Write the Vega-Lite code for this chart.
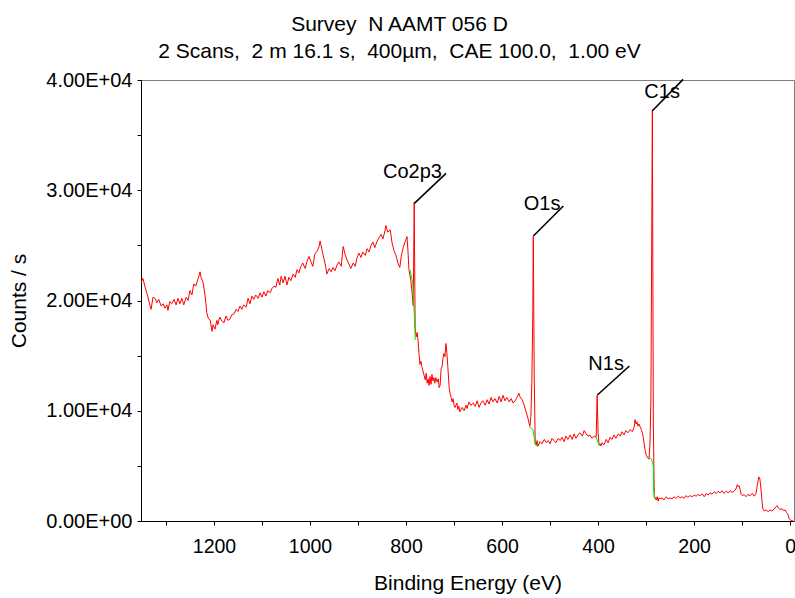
{
  "$schema": "https://vega.github.io/schema/vega-lite/v6.json",
  "width": 653,
  "height": 441,
  "autosize": {"type": "none"},
  "padding": {"left": 141, "top": 80, "right": 1, "bottom": 77},
  "background": "white",
  "config": {
    "font": "Liberation Sans",
    "view": {"stroke": "#808080", "strokeWidth": 1}
  },
  "title": {
    "text": ["Survey\u00a0 N AAMT 056 D", "2 Scans,\u00a0 2 m 16.1 s,\u00a0 400µm,\u00a0 CAE 100.0,\u00a0 1.00 eV"],
    "font": "Liberation Sans",
    "fontSize": 21,
    "fontWeight": "normal",
    "color": "black",
    "anchor": "middle",
    "dx": -68,
    "offset": 8,
    "lineHeight": 27
  },
  "datasets": {
    "spec": [
      {"eV":1352,"counts":21600},{"eV":1348,"counts":22000},{"eV":1344,"counts":21300},{"eV":1342,"counts":21000},{"eV":1338,"counts":20400},{"eV":1333,"counts":19500},{"eV":1331,"counts":19200},{"eV":1327,"counts":20300},{"eV":1323,"counts":20200},{"eV":1319,"counts":19800},{"eV":1315,"counts":20100},{"eV":1310,"counts":19500},{"eV":1306,"counts":19700},{"eV":1302,"counts":19300},{"eV":1298,"counts":19600},{"eV":1296,"counts":19100},{"eV":1292,"counts":19900},{"eV":1288,"counts":19700},{"eV":1283,"counts":20100},{"eV":1279,"counts":19600},{"eV":1275,"counts":20200},{"eV":1271,"counts":19700},{"eV":1267,"counts":20200},{"eV":1263,"counts":19600},{"eV":1258,"counts":20300},{"eV":1254,"counts":20000},{"eV":1250,"counts":20900},{"eV":1246,"counts":20500},{"eV":1242,"counts":21500},{"eV":1238,"counts":21300},{"eV":1233,"counts":22000},{"eV":1229,"counts":22600},{"eV":1227,"counts":22100},{"eV":1223,"counts":21700},{"eV":1219,"counts":20600},{"eV":1217,"counts":19800},{"eV":1215,"counts":18900},{"eV":1212,"counts":18400},{"eV":1208,"counts":18200},{"eV":1204,"counts":17200},{"eV":1202,"counts":17800},{"eV":1198,"counts":17400},{"eV":1194,"counts":18200},{"eV":1192,"counts":17800},{"eV":1188,"counts":18500},{"eV":1183,"counts":18100},{"eV":1179,"counts":18000},{"eV":1175,"counts":18600},{"eV":1171,"counts":18200},{"eV":1167,"counts":18300},{"eV":1163,"counts":18700},{"eV":1158,"counts":18800},{"eV":1154,"counts":19200},{"eV":1150,"counts":19000},{"eV":1146,"counts":19500},{"eV":1142,"counts":19200},{"eV":1138,"counts":19600},{"eV":1133,"counts":19400},{"eV":1129,"counts":20200},{"eV":1125,"counts":19700},{"eV":1121,"counts":20400},{"eV":1117,"counts":20100},{"eV":1113,"counts":20500},{"eV":1108,"counts":20200},{"eV":1104,"counts":20700},{"eV":1100,"counts":20300},{"eV":1096,"counts":20800},{"eV":1092,"counts":20400},{"eV":1088,"counts":20900},{"eV":1083,"counts":20700},{"eV":1079,"counts":21100},{"eV":1075,"counts":21300},{"eV":1071,"counts":21200},{"eV":1067,"counts":22000},{"eV":1063,"counts":21400},{"eV":1060,"counts":22200},{"eV":1056,"counts":21600},{"eV":1052,"counts":22200},
      {"eV":1048,"counts":21400},{"eV":1044,"counts":22100},{"eV":1040,"counts":21800},{"eV":1035,"counts":22400},{"eV":1031,"counts":22100},{"eV":1027,"counts":22800},{"eV":1023,"counts":22500},{"eV":1019,"counts":23100},{"eV":1015,"counts":23400},{"eV":1010,"counts":22900},{"eV":1006,"counts":23600},{"eV":1002,"counts":24000},{"eV":998,"counts":23500},{"eV":994,"counts":23100},{"eV":990,"counts":24200},{"eV":985,"counts":24500},{"eV":981,"counts":24900},{"eV":979,"counts":25400},{"eV":975,"counts":24600},{"eV":971,"counts":23800},{"eV":967,"counts":23000},{"eV":965,"counts":22400},{"eV":960,"counts":22900},{"eV":956,"counts":22600},{"eV":952,"counts":23000},{"eV":948,"counts":22700},{"eV":944,"counts":23200},{"eV":940,"counts":23500},{"eV":935,"counts":23100},{"eV":931,"counts":24900},{"eV":927,"counts":24200},{"eV":923,"counts":23700},{"eV":919,"counts":23300},{"eV":915,"counts":22900},{"eV":910,"counts":23400},{"eV":906,"counts":23100},{"eV":902,"counts":23900},{"eV":898,"counts":24300},{"eV":894,"counts":23900},{"eV":890,"counts":24400},{"eV":885,"counts":24100},{"eV":881,"counts":24700},{"eV":877,"counts":24400},{"eV":873,"counts":25000},{"eV":869,"counts":25300},{"eV":865,"counts":24800},{"eV":860,"counts":25400},{"eV":856,"counts":25700},{"eV":852,"counts":26000},{"eV":848,"counts":25600},{"eV":844,"counts":26300},{"eV":842,"counts":26800},{"eV":838,"counts":26200},{"eV":833,"counts":26400},{"eV":829,"counts":25200},{"eV":825,"counts":24500},{"eV":821,"counts":24100},{"eV":817,"counts":23400},{"eV":813,"counts":23000},{"eV":810,"counts":24000},{"eV":806,"counts":24800},{"eV":802,"counts":25300},{"eV":798,"counts":25800},{"eV":796,"counts":24500},{"eV":794,"counts":22800},{"eV":790,"counts":21800},{"eV":787,"counts":20500},{"eV":785,"counts":19500},{"eV":783,"counts":28900},{"eV":781,"counts":17500},{"eV":779,"counts":16700},
      {"eV":777,"counts":17100},{"eV":775,"counts":16400},{"eV":773,"counts":15200},{"eV":771,"counts":14200},{"eV":769,"counts":14500},{"eV":767,"counts":14000},{"eV":763,"counts":13300},{"eV":760,"counts":12800},{"eV":758,"counts":13400},{"eV":756,"counts":12500},{"eV":754,"counts":12900},{"eV":752,"counts":12300},{"eV":750,"counts":13100},{"eV":748,"counts":12400},{"eV":746,"counts":13300},{"eV":744,"counts":12700},{"eV":742,"counts":13000},{"eV":740,"counts":12500},{"eV":738,"counts":13000},{"eV":735,"counts":12600},{"eV":733,"counts":12900},{"eV":731,"counts":12100},{"eV":729,"counts":12300},{"eV":727,"counts":13800},{"eV":725,"counts":14000},{"eV":723,"counts":14800},{"eV":721,"counts":15200},{"eV":719,"counts":14900},{"eV":717,"counts":16100},{"eV":715,"counts":15300},{"eV":713,"counts":14000},{"eV":710,"counts":12000},{"eV":708,"counts":11500},{"eV":706,"counts":11200},{"eV":704,"counts":10800},{"eV":702,"counts":11100},{"eV":700,"counts":10500},{"eV":698,"counts":10300},{"eV":694,"counts":10700},{"eV":692,"counts":10100},{"eV":690,"counts":10400},{"eV":688,"counts":9900},{"eV":683,"counts":10300},{"eV":679,"counts":10000},{"eV":675,"counts":10500},{"eV":673,"counts":10200},{"eV":669,"counts":10800},{"eV":665,"counts":10500},{"eV":660,"counts":10700},{"eV":656,"counts":10400},{"eV":652,"counts":10900},{"eV":648,"counts":10300},{"eV":644,"counts":10700},{"eV":640,"counts":10900},{"eV":635,"counts":10500},{"eV":631,"counts":11000},{"eV":627,"counts":10600},{"eV":623,"counts":11200},{"eV":619,"counts":10800},{"eV":615,"counts":11100},{"eV":610,"counts":10700},{"eV":606,"counts":11300},{"eV":602,"counts":10800},{"eV":598,"counts":11400},{"eV":594,"counts":10900},{"eV":590,"counts":11200},{"eV":585,"counts":10800},{"eV":581,"counts":11100},{"eV":577,"counts":10700},{"eV":573,"counts":10900},{"eV":569,"counts":11200},{"eV":565,"counts":11600},{"eV":563,"counts":11300},{"eV":558,"counts":11000},{"eV":554,"counts":10500},{"eV":550,"counts":9900},{"eV":546,"counts":9300},{"eV":544,"counts":8900},{"eV":542,"counts":8600},{"eV":540,"counts":9500},{"eV":538,"counts":12500},{"eV":536,"counts":19000},{"eV":535,"counts":25800},{"eV":533,"counts":13000},{"eV":531,"counts":7200},{"eV":529,"counts":6900},{"eV":527,"counts":7300},{"eV":525,"counts":6800},
      {"eV":521,"counts":7200},{"eV":517,"counts":7000},{"eV":512,"counts":7400},{"eV":508,"counts":7100},{"eV":504,"counts":7300},{"eV":500,"counts":7000},{"eV":496,"counts":7500},{"eV":492,"counts":7300},{"eV":488,"counts":7100},{"eV":483,"counts":7500},{"eV":479,"counts":7300},{"eV":475,"counts":7600},{"eV":471,"counts":7200},{"eV":467,"counts":7700},{"eV":463,"counts":7400},{"eV":458,"counts":7800},{"eV":454,"counts":7400},{"eV":450,"counts":7900},{"eV":446,"counts":7500},{"eV":442,"counts":7800},{"eV":438,"counts":8000},{"eV":433,"counts":7700},{"eV":429,"counts":8200},{"eV":425,"counts":7900},{"eV":421,"counts":7700},{"eV":417,"counts":7800},{"eV":413,"counts":7500},{"eV":408,"counts":7700},{"eV":404,"counts":7600},{"eV":402,"counts":11400},{"eV":400,"counts":8000},{"eV":398,"counts":6900},{"eV":396,"counts":7000},{"eV":394,"counts":6800},{"eV":392,"counts":7100},{"eV":388,"counts":6900},{"eV":383,"counts":7400},{"eV":379,"counts":7100},{"eV":375,"counts":7600},{"eV":371,"counts":7400},{"eV":367,"counts":7800},{"eV":363,"counts":7500},{"eV":358,"counts":7900},{"eV":354,"counts":7700},{"eV":350,"counts":8100},{"eV":346,"counts":7800},{"eV":342,"counts":8200},{"eV":338,"counts":8000},{"eV":333,"counts":8300},{"eV":329,"counts":8100},{"eV":325,"counts":8500},{"eV":323,"counts":9200},{"eV":321,"counts":8800},{"eV":319,"counts":9000},{"eV":317,"counts":8600},{"eV":315,"counts":8800},{"eV":313,"counts":8600},{"eV":310,"counts":8300},{"eV":308,"counts":8000},{"eV":306,"counts":7600},{"eV":304,"counts":7000},{"eV":302,"counts":6400},{"eV":300,"counts":6000},{"eV":298,"counts":5800},{"eV":296,"counts":5700},{"eV":294,"counts":5600},{"eV":292,"counts":7000},{"eV":290,"counts":11000},{"eV":287,"counts":37300},{"eV":285,"counts":9000},{"eV":283,"counts":2100},
      {"eV":281,"counts":2100},{"eV":279,"counts":1900},{"eV":277,"counts":2200},{"eV":275,"counts":1800},{"eV":273,"counts":2100},{"eV":271,"counts":2000},{"eV":267,"counts":2100},{"eV":263,"counts":1900},{"eV":258,"counts":2200},{"eV":254,"counts":2000},{"eV":250,"counts":2100},{"eV":246,"counts":2000},{"eV":242,"counts":2200},{"eV":238,"counts":2050},{"eV":233,"counts":2250},{"eV":229,"counts":2100},{"eV":225,"counts":2200},{"eV":221,"counts":2050},{"eV":217,"counts":2300},{"eV":213,"counts":2150},{"eV":208,"counts":2300},{"eV":204,"counts":2200},{"eV":200,"counts":2350},{"eV":196,"counts":2250},{"eV":192,"counts":2400},{"eV":188,"counts":2300},{"eV":183,"counts":2450},{"eV":179,"counts":2200},{"eV":175,"counts":2500},{"eV":171,"counts":2350},{"eV":167,"counts":2550},{"eV":163,"counts":2450},{"eV":158,"counts":2650},{"eV":154,"counts":2500},{"eV":150,"counts":2700},{"eV":146,"counts":2550},{"eV":142,"counts":2750},{"eV":138,"counts":2500},{"eV":133,"counts":2700},{"eV":129,"counts":2550},{"eV":125,"counts":2750},{"eV":121,"counts":2600},{"eV":117,"counts":2700},{"eV":113,"counts":2900},{"eV":110,"counts":3300},{"eV":108,"counts":3100},{"eV":106,"counts":3200},{"eV":104,"counts":2800},{"eV":102,"counts":2400},{"eV":100,"counts":2300},{"eV":96,"counts":2400},{"eV":92,"counts":2200},{"eV":88,"counts":2400},{"eV":83,"counts":2300},{"eV":79,"counts":2500},{"eV":75,"counts":2250},{"eV":71,"counts":2500},{"eV":69,"counts":3100},{"eV":67,"counts":3600},{"eV":65,"counts":4000},{"eV":63,"counts":3800},{"eV":61,"counts":3000},{"eV":59,"counts":2000},{"eV":57,"counts":1100},{"eV":54,"counts":900},{"eV":50,"counts":1000},{"eV":46,"counts":850},{"eV":42,"counts":1000},{"eV":38,"counts":900},{"eV":33,"counts":1100},{"eV":29,"counts":1300},{"eV":27,"counts":1400},{"eV":25,"counts":1200},{"eV":21,"counts":1050},{"eV":17,"counts":1100},{"eV":13,"counts":950},{"eV":10,"counts":1000},{"eV":8,"counts":800},{"eV":6,"counts":700},{"eV":4,"counts":500},{"eV":2,"counts":200},{"eV":0,"counts":100},{"eV":-2,"counts":50},{"eV":-4,"counts":40},{"eV":-6,"counts":30}
    ],
    "bg": [
      {"seg":"Co2p3","eV":791.7,"counts":22770},{"seg":"Co2p3","eV":786,"counts":21590},{"seg":"Co2p3","eV":782.7,"counts":18530},{"seg":"Co2p3","eV":780.6,"counts":16420},
      {"seg":"O1s","eV":544,"counts":8570},{"seg":"O1s","eV":535.5,"counts":8270},{"seg":"O1s","eV":531,"counts":6910},{"seg":"O1s","eV":524.4,"counts":6750},
      {"seg":"N1s","eV":404.2,"counts":7590},{"seg":"N1s","eV":397.3,"counts":6800},
      {"seg":"C1s","eV":295.2,"counts":5900},{"seg":"C1s","eV":288.1,"counts":5550},{"seg":"C1s","eV":284.9,"counts":4940},{"seg":"C1s","eV":284.7,"counts":2820},{"seg":"C1s","eV":281.3,"counts":2060}
    ],
    "ann": [
      {"label":"Co2p3","eV":782.7,"counts":28815,"eV2":716.7,"counts2":31537,"teV":786.5,"tcounts":31110},
      {"label":"O1s","eV":534.8,"counts":25850,"eV2":472.3,"counts2":28570,"teV":516.7,"tcounts":28210},
      {"label":"N1s","eV":401.5,"counts":11430,"eV2":334.8,"counts2":14060,"teV":383.3,"tcounts":13700},
      {"label":"C1s","eV":286.9,"counts":37210,"eV2":222.9,"counts2":40060,"teV":266.7,"tcounts":38370}
    ]
  },
  "layer": [
    {
      "data": {"name": "spec"},
      "mark": {"type": "line", "color": "#ff0000", "strokeWidth": 1, "clip": true},
      "encoding": {
        "x": {
          "field": "eV", "type": "quantitative",
          "scale": {"domain": [1352, -8], "nice": false, "zero": false},
          "title": "Binding Energy (eV)",
          "axis": {
            "values": [0,100,200,300,400,500,600,700,800,900,1000,1100,1200,1300],
            "labelExpr": "datum.value % 200 === 0 ? format(datum.value, 'd') : ''",
            "grid": false, "domainColor": "black", "tickColor": "black", "tickSize": 4,
            "labelFontSize": 19.5, "labelColor": "black", "labelPadding": 12, "labelOverlap": false, "labelFlush": false, "labelBound": false,
            "titleFontSize": 21, "titleFontWeight": "normal", "titleColor": "black", "titlePadding": 17
          }
        },
        "y": {
          "field": "counts", "type": "quantitative",
          "scale": {"domain": [0, 40000], "nice": false, "zero": false},
          "title": "Counts / s",
          "axis": {
            "values": [0,5000,10000,15000,20000,25000,30000,35000,40000],
            "labelExpr": "datum.value % 10000 === 0 ? (datum.value === 0 ? '0.00E+00' : format(datum.value / 10000, '.2f') + 'E+04') : ''",
            "grid": false, "domainColor": "black", "tickColor": "black", "tickSize": 4,
            "labelFontSize": 20, "labelColor": "black", "labelPadding": 5, "labelOverlap": false, "labelFlush": false, "labelBound": false,
            "titleFontSize": 21, "titleFontWeight": "normal", "titleColor": "black", "titlePadding": 16
          }
        }
      }
    },
    {
      "data": {"name": "bg"},
      "mark": {"type": "line", "color": "#00ee00", "strokeWidth": 1, "clip": true},
      "encoding": {
        "x": {"field": "eV", "type": "quantitative"},
        "y": {"field": "counts", "type": "quantitative"},
        "detail": {"field": "seg"}
      }
    },
    {
      "data": {"name": "ann"},
      "mark": {"type": "rule", "color": "black", "strokeWidth": 1.6},
      "encoding": {
        "x": {"field": "eV", "type": "quantitative"},
        "y": {"field": "counts", "type": "quantitative"},
        "x2": {"field": "eV2"},
        "y2": {"field": "counts2"}
      }
    },
    {
      "data": {"name": "ann"},
      "mark": {"type": "text", "fontSize": 20, "color": "black", "align": "center", "baseline": "alphabetic"},
      "encoding": {
        "x": {"field": "teV", "type": "quantitative"},
        "y": {"field": "tcounts", "type": "quantitative"},
        "text": {"field": "label"}
      }
    }
  ]
}
